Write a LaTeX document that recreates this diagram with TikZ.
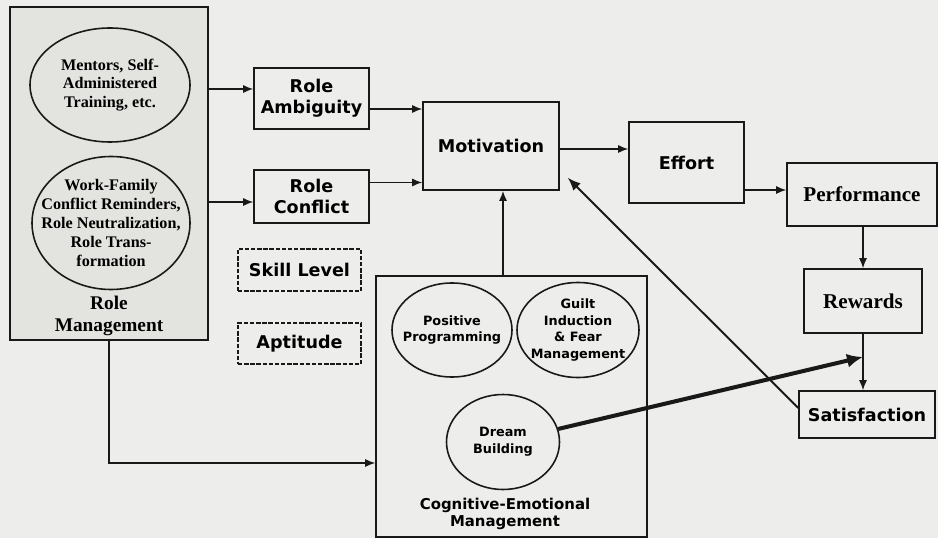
\documentclass[tikz,border=0pt]{standalone}
\usepackage{fontspec}
\setmainfont{Liberation Serif}
\newfontfamily\blacksans{DejaVu Sans}
\usetikzlibrary{arrows.meta,shapes.geometric,calc}

\definecolor{paper}{RGB}{237,237,235}
\definecolor{stipple}{RGB}{227,227,223}
\definecolor{ink}{RGB}{25,25,25}

\tikzset{
    box/.style={draw=ink, line width=0.9pt, rectangle, inner sep=0pt, align=center,
        font=\blacksans\bfseries\fontsize{10}{11.7}\selectfont},
    serifbox/.style={box, font=\rmfamily\bfseries\fontsize{12}{14}\selectfont},
    dashbox/.style={box, line width=0.7pt, dash pattern=on 2.5pt off 1pt},
    oval/.style={draw=ink, line width=0.9pt, ellipse, inner sep=0pt},
    ovaltext/.style={align=center, inner sep=0pt, font=\rmfamily\bfseries\fontsize{9.2}{10.7}\selectfont},
    smallovaltext/.style={align=center, inner sep=0pt, font=\blacksans\bfseries\fontsize{7.3}{9.5}\selectfont},
    link/.style={draw=ink, line width=0.75pt, -{Latex[length=2mm,width=1.6mm]}}
}

\begin{document}
\begin{tikzpicture}[x=0.2mm, y=-0.2mm]
    \fill[paper] (0,0) rectangle (938,538);
    \useasboundingbox (0,0) rectangle (938,538);

    \begin{scope}
        \node[box, fill=stipple, minimum width=39.6mm, minimum height=66.6mm] (R) at (109,173.5) {};
        \node[oval, minimum width=32mm, minimum height=22.8mm] (R_1) at (110,85) {};
        \node[oval, minimum width=31.6mm, minimum height=26.6mm] (R_2) at (111,223) {};
        \node[ovaltext] (R_1t) at (R_1) {Mentors, Self-\\Administered\\Training, etc.};
        \node[ovaltext] (R_2t) at (R_2) {Work-Family\\Conflict Reminders,\\Role Neutralization,\\Role Trans-\\formation};
        \node[ovaltext, font=\rmfamily\bfseries\fontsize{11}{12.3}\selectfont] (R_t) at (109,316) {Role\\Management};
    \end{scope}

    \begin{scope}
        \node[box, minimum width=23mm, minimum height=12.2mm] (ambig) at (311.5,98.5) {Role\\Ambiguity};
        \node[box, minimum width=23mm, minimum height=10.6mm] (conflict) at (311.5,196.5) {Role\\Conflict};
        \node[dashbox, minimum width=24.6mm, minimum height=8.4mm] (skill) at (299.5,270) {Skill Level};
        \node[dashbox, minimum width=24.6mm, minimum height=8.2mm] (aptitude) at (299.5,343.5) {Aptitude};
        \node[box, minimum width=27.2mm, minimum height=17.6mm] (motivation) at (491,146) {Motivation};
        \node[box, minimum width=23mm, minimum height=16.2mm] (effort) at (686.5,162.5) {Effort};
        \node[serifbox, minimum width=30mm, minimum height=12.6mm] (performance) at (862,194.5) {Performance};
        \node[serifbox, minimum width=23.6mm, minimum height=12.8mm] (rewards) at (863,301) {Rewards};
        \node[box, minimum width=27.2mm, minimum height=9.4mm] (satisfaction) at (867,414.5) {Satisfaction};
    \end{scope}

    \begin{scope}
        \node[box, minimum width=54.2mm, minimum height=52.2mm] (cogem) at (511.5,406.5) {};
        \node[oval, minimum width=24mm, minimum height=18.8mm] (positive) at (452,330) {};
        \node[oval, minimum width=24.4mm, minimum height=19mm] (guilt) at (578,330) {};
        \node[oval, minimum width=22.6mm, minimum height=19mm] (dream) at (503,442) {};
        \node[smallovaltext] (positive_t) at (positive) {Positive\\Programming};
        \node[smallovaltext] (guilt_t) at (guilt) {Guilt\\Induction\\\& Fear\\Management};
        \node[smallovaltext] (dream_t) at (dream) {Dream\\Building};
        \node[smallovaltext, font=\blacksans\bfseries\fontsize{8.5}{10}\selectfont] (cogem_t) at (505,514) {Cognitive-Emotional\\Management};
    \end{scope}

    \coordinate (a_in) at ($(ambig.west)+(0,-9.5)$);
    \coordinate (c_in) at ($(conflict.west)+(0,5.5)$);
    \coordinate (m_a) at ($(ambig.east)+(0,10.5)$);
    \coordinate (m_c) at ($(conflict.east)+(0,-14)$);
    \coordinate (m_e) at ($(motivation.east)+(0,3)$);
    \coordinate (e_p) at ($(effort.east)+(0,27.5)$);
    \coordinate (s_out) at ($(satisfaction.west)+(0,-6.5)$);
    \coordinate (m_in) at ($(motivation.south east)+(8,-13)$);
    \coordinate (ce_in) at ($(cogem.west)+(0,56.5)$);
    \coordinate (hit) at ($(rewards.south)!0.41!(rewards.south |- satisfaction.north)$);

    \begin{scope}
        \draw[link] (R.east |- a_in) -- (a_in);
        \draw[link] (R.east |- c_in) -- (c_in);
        \draw[link] (m_a) -- (m_a -| motivation.west);
        \draw[link] (m_c) -- (m_c -| motivation.west);
        \draw[link] (m_e) -- (m_e -| effort.west);
        \draw[link] (e_p) -- (e_p -| performance.west);
        \draw[link] (rewards.north |- performance.south) -- (rewards.north);
        \draw[link] (rewards.south) -- (rewards.south |- satisfaction.north);
        \draw[link, line width=1.1pt, -{Latex[length=2.6mm,width=2.1mm]}] (s_out) -- (m_in);
        \draw[link, line width=0.9pt] (dream |- cogem.north) -- (dream |- motivation.south);
        \draw[link] (R.south) |- (ce_in);
        \draw[link, line width=2.3pt, -{Latex[length=3.2mm,width=2.8mm]}] (dream) -- (hit);
    \end{scope}
\end{tikzpicture}
\end{document}
